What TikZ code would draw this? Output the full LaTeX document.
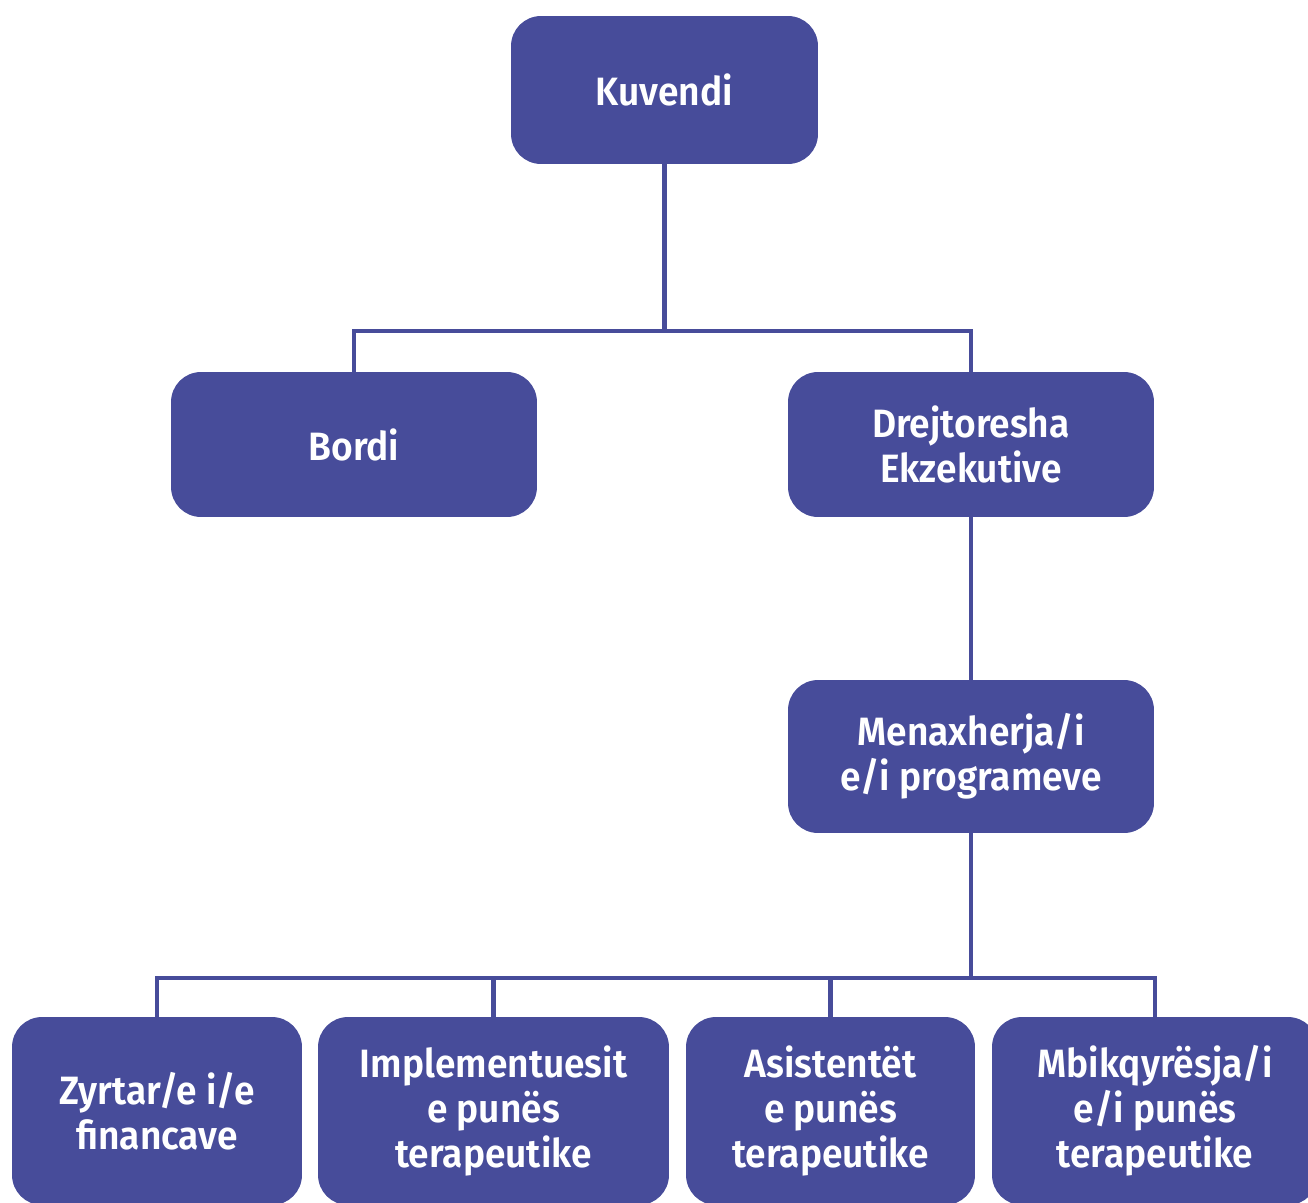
\documentclass[tikz,border=0pt]{standalone}
\usepackage{fontspec}
\setmainfont{Fira Sans}[BoldFont={Fira Sans SemiBold}, FakeStretch=0.94]
\usepackage{tikz}
\usetikzlibrary{positioning}
\definecolor{orgblue}{HTML}{474C9A}

\begin{document}
\begin{tikzpicture}[x=0.02cm, y=-0.02cm, draw=orgblue]
    \tikzstyle{link} = [line width=2.8pt, draw=orgblue]
    \tikzstyle{unit} = [rectangle, rounded corners=0.6cm, fill=orgblue, draw=none, text=white, align=center, inner sep=0pt,
        font=\fontsize{22.5}{25.6}\selectfont\bfseries]
    \useasboundingbox (0,0) rectangle (1308,1203);
    % top levels
    \node (kuvendi) [unit, minimum width=6.14cm, minimum height=2.96cm] at (664.5,90) {Kuvendi};
    \node (bordi) [unit, minimum width=7.32cm, minimum height=2.9cm] at (354,444.5) {Bordi};
    \node (drejtoresha) [unit, minimum width=7.32cm, minimum height=2.9cm] at (971,444.5) {Drejtoresha\\Ekzekutive};
    \node (menaxherja) [unit, minimum width=7.32cm, minimum height=3.06cm] at (971,756.5) {Menaxherja/i\\e/i programeve};
    % bottom row
    \node (zyrtar) [unit, minimum width=5.8cm, minimum height=3.76cm] at (157,1111) {Zyrtar/e i/e\\financave};
    \node (implementuesit) [unit, minimum width=7.02cm, minimum height=3.76cm] at (493.5,1111) {Implementuesit\\e punës\\terapeutike};
    \node (asistentet) [unit, minimum width=5.78cm, minimum height=3.76cm] at (830.5,1111) {Asistentët\\e punës\\terapeutike};
    \node (mbikqyresja) [unit, minimum width=6.52cm, minimum height=3.76cm] at (1155,1111) {Mbikqyrësja/i\\e/i punës\\terapeutike};
    % connectors
    \coordinate (split1) at (664.5,331);
    \coordinate (split2) at (971,978);
    \draw [link] (kuvendi) -- (split1);
    \draw [link] (split1) -| (bordi);
    \draw [link] (split1) -| (drejtoresha);
    \draw [link] (drejtoresha) -- (menaxherja);
    \draw [link] (menaxherja) -- (split2);
    \draw [link] (split2) -| (zyrtar);
    \draw [link] (split2) -| (implementuesit);
    \draw [link] (split2) -| (asistentet);
    \draw [link] (split2) -| (mbikqyresja);
\end{tikzpicture}
\end{document}
